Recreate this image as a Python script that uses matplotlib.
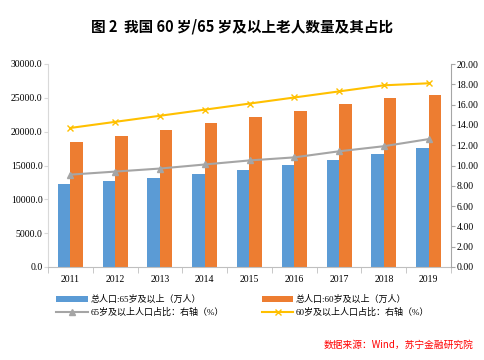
import matplotlib.pyplot as plt
import numpy as np

plt.rcParams['font.family'] = ['Liberation Serif', 'Noto Sans CJK SC']

years = ['2011', '2012', '2013', '2014', '2015', '2016', '2017', '2018', '2019']
pop65 = [12288, 12714, 13161, 13755, 14386, 15003, 15831, 16658, 17603]
pop60 = [18499, 19390, 20243, 21242, 22200, 23086, 24090, 24949, 25388]
ratio65 = [9.1, 9.4, 9.7, 10.1, 10.5, 10.8, 11.4, 11.9, 12.6]
ratio60 = [13.7, 14.3, 14.9, 15.5, 16.1, 16.7, 17.3, 17.9, 18.1]

fig = plt.figure(figsize=(4.84, 3.6), dpi=100)
ax = fig.add_axes([48 / 484, 93 / 360, 403 / 484, 203 / 360])
x = np.arange(len(years))
w = 0.28
b1 = ax.bar(x - w / 2, pop65, w, color='#5B9BD5', label='总人口:65岁及以上（万人）')
b2 = ax.bar(x + w / 2, pop60, w, color='#ED7D31', label='总人口:60岁及以上（万人）')
ax.set_xlim(-0.5, len(years) - 0.5)
ax.set_ylim(0, 30000)
ax.set_yticks(np.arange(0, 30001, 5000))
ax.set_yticklabels([f'{v:.1f}' for v in np.arange(0, 30001, 5000)], fontsize=7)
ax.set_xticks(x)
ax.set_xticklabels(years, fontsize=7)
ax.set_xticks(np.arange(-0.5, len(years), 1), minor=True)
ax.tick_params(axis='x', which='major', length=0, pad=6)
ax.tick_params(axis='x', which='minor', length=4, color='#BFBFBF')
ax.tick_params(axis='y', length=3, color='#D9D9D9', pad=1)
for s in ['top', 'right']:
    ax.spines[s].set_visible(False)
ax.spines['left'].set_color('#D9D9D9')
ax.spines['bottom'].set_color('#BFBFBF')

ax2 = ax.twinx()
l1, = ax2.plot(x, ratio65, color='#A5A5A5', marker='^', markersize=5, lw=1.5,
               label='65岁及以上人口占比：右轴（%）')
l2, = ax2.plot(x, ratio60, color='#FFC000', marker='x', markersize=5, lw=1.5,
               label='60岁及以上人口占比：右轴（%）')
ax2.set_ylim(0, 20)
ax2.set_yticks(np.arange(0, 20.1, 2))
ax2.set_yticklabels([f'{v:.2f}' for v in np.arange(0, 20.1, 2)], fontsize=7)
ax2.tick_params(axis='y', length=3, color='#A6A6A6', pad=1)
for s in ['top', 'left', 'bottom']:
    ax2.spines[s].set_visible(False)
ax2.spines['right'].set_color('#A6A6A6')

fig.text(0.5, 0.925, '图 2  我国 60 岁/65 岁及以上老人数量及其占比', ha='center', va='center',
         fontsize=10.5, fontweight='bold', family=['Noto Sans CJK SC'])

handles = [b1, l1, b2, l2]
leg = fig.legend(handles, [h.get_label() for h in handles],
                 loc='upper left', bbox_to_anchor=(48 / 484, 1 - 287 / 360), ncol=2,
                 frameon=False, handlelength=3.5, handleheight=0.5,
                 columnspacing=4.2, labelspacing=0.35, handletextpad=0.3,
                 prop={'family': ['Liberation Serif', 'Noto Sans CJK SC'], 'size': 6.5})
leg.legend_handles[0].set_height(4)
leg.legend_handles[2].set_height(4)

fig.text(473 / 484, 1 - 345 / 360, '数据来源：Wind，苏宁金融研究院', ha='right', va='center',
         fontsize=7, color='#FF0000', style='italic', family=['Noto Sans CJK SC'])

fig.savefig('out.png', dpi=100)
